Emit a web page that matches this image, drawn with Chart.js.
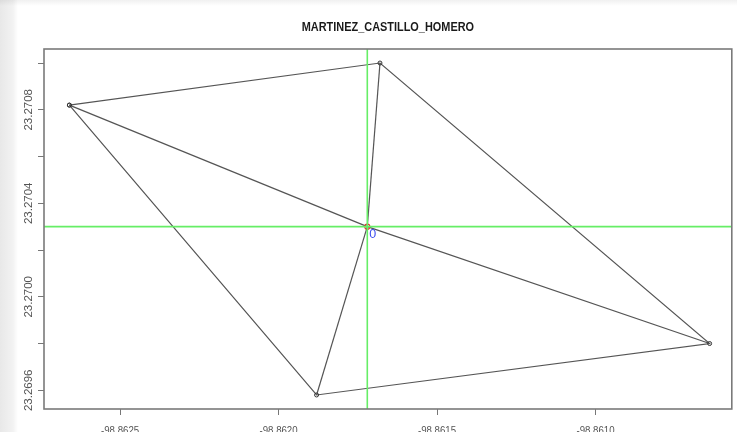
<!DOCTYPE html>
<html>
<head>
<meta charset="utf-8">
<script src="https://cdn.jsdelivr.net/npm/chart.js@4/dist/chart.umd.min.js"></script>
<style>
  html, body { margin: 0; padding: 0; }
  body {
    width: 737px; height: 432px; overflow: hidden;
    background:
      linear-gradient(to right, rgba(0,0,0,0.09) 0, rgba(0,0,0,0.05) 13px, rgba(0,0,0,0) 18px),
      linear-gradient(to bottom, rgba(0,0,0,0.06) 0, rgba(0,0,0,0) 6px),
      #fff;
  }
  canvas { display: block; }
</style>
</head>
<body>
<canvas id="plot" width="737" height="432"></canvas>
<script>
const plotTitle = 'MARTINEZ_CASTILLO_HOMERO';

// polygon corners (lon / lat)
const vertexLon = [-98.86266, -98.86168, -98.86064, -98.86188];
const vertexLat = [23.27082, 23.27100, 23.26980, 23.26958];

// centroid and its label
const centerLon = -98.86172;
const centerLat = 23.27030;
const centerLabel = '0';

// axis limits and ticks
const xMin = -98.86274, xMax = -98.86057;
const yMin = 23.26952, yMax = 23.27106;
const xTicks = [-98.8625, -98.8620, -98.8615, -98.8610];
const yTicks = [23.2696, 23.2698, 23.2700, 23.2702, 23.2704, 23.2706, 23.2708, 23.2710];
const yLabels = [23.2696, 23.2700, 23.2704, 23.2708];

const lineColor = '#555';
const greenColor = '#66ee66';
const squeeze = 0.84;   // narrow-font look for horizontal text

const corners = vertexLon.map((lon, i) => ({x: lon, y: vertexLat[i]}));
const center = {x: centerLon, y: centerLat};

const datasets = [
    {   // horizontal guide
        data: [{x: xMin, y: centerLat}, {x: xMax, y: centerLat}],
        borderColor: greenColor, borderWidth: 1.6, pointRadius: 0, showLine: true
    },
    {   // vertical guide
        data: [{x: centerLon, y: yMin}, {x: centerLon, y: yMax}],
        borderColor: greenColor, borderWidth: 1.6, pointRadius: 0, showLine: true
    },
    {   // centroid
        data: [center],
        pointRadius: 2.5, pointBorderColor: '#e03030', pointBackgroundColor: 'rgba(0,0,0,0)',
        pointBorderWidth: 1.2, showLine: false
    },
    {   // outline
        data: corners.concat([corners[0]]),
        borderColor: lineColor, borderWidth: 1.2, showLine: true,
        pointRadius: 2, pointBorderColor: '#333', pointBackgroundColor: 'rgba(0,0,0,0)',
        pointBorderWidth: 1
    }
];

// spokes from centroid to each corner
corners.forEach(c => {
    datasets.push({
        data: [center, c],
        borderColor: lineColor, borderWidth: 1.2, pointRadius: 0, showLine: true
    });
});

function squeezedText(ctx, text, x, y) {
    ctx.save();
    ctx.translate(x, y);
    ctx.scale(squeeze, 1);
    ctx.fillText(text, 0, 0);
    ctx.restore();
}

const decorations = {
    id: 'decorations',
    afterDraw(chart) {
        const ctx = chart.ctx;
        const area = chart.chartArea;
        const xs = chart.scales.x;
        const ys = chart.scales.y;
        ctx.save();

        // box around plot
        ctx.strokeStyle = '#7a7a7a';
        ctx.lineWidth = 1.6;
        ctx.strokeRect(area.left, area.top, area.right - area.left, area.bottom - area.top);

        // title
        ctx.fillStyle = '#1a1a1a';
        ctx.font = 'bold 13px "Liberation Sans", Arial, sans-serif';
        ctx.textAlign = 'center';
        ctx.textBaseline = 'middle';
        squeezedText(ctx, plotTitle, (area.left + area.right) / 2, 27);

        // x labels
        ctx.fillStyle = '#555';
        ctx.font = '11.5px "Liberation Sans", Arial, sans-serif';
        ctx.textBaseline = 'top';
        xTicks.forEach(v => {
            squeezedText(ctx, v.toFixed(4), xs.getPixelForValue(v), 425);
        });

        // rotated y labels
        ctx.textBaseline = 'middle';
        yLabels.forEach(v => {
            const py = ys.getPixelForValue(v);
            ctx.save();
            ctx.translate(28.5, py);
            ctx.rotate(-Math.PI / 2);
            ctx.fillText(v.toFixed(4), 0, 0);
            ctx.restore();
        });

        // centroid label
        ctx.fillStyle = '#3a4cf0';
        ctx.font = '12.5px "Liberation Sans", Arial, sans-serif';
        ctx.textAlign = 'left';
        ctx.fillText(centerLabel, xs.getPixelForValue(centerLon) + 2, ys.getPixelForValue(centerLat) + 7.5);
        ctx.restore();
    }
};

new Chart(document.getElementById('plot'), {
    type: 'scatter',
    data: {datasets: datasets},
    options: {
        responsive: false,
        animation: false,
        layout: {padding: {top: 49, right: 4, left: 0, bottom: 0}},
        plugins: {legend: {display: false}, tooltip: {enabled: false}, title: {display: false}},
        scales: {
            x: {
                type: 'linear', min: xMin, max: xMax,
                afterBuildTicks: s => { s.ticks = xTicks.map(v => ({value: v})); },
                afterFit: s => { s.height = 23; },
                border: {display: false},
                grid: {drawOnChartArea: false, drawTicks: true, tickLength: 6, color: '#777', lineWidth: 1},
                ticks: {display: false}
            },
            y: {
                type: 'linear', min: yMin, max: yMax,
                afterBuildTicks: s => { s.ticks = yTicks.map(v => ({value: v})); },
                afterFit: s => { s.width = 44; },
                border: {display: false},
                grid: {drawOnChartArea: false, drawTicks: true, tickLength: 6, color: '#777', lineWidth: 1},
                ticks: {display: false}
            }
        }
    },
    plugins: [decorations]
});
</script>
</body>
</html>
